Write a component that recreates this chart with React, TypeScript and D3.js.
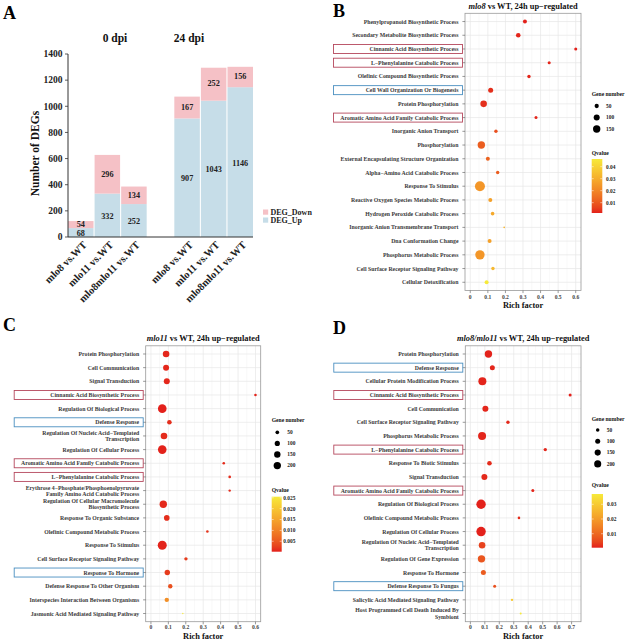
import React from 'react';
import * as d3 from 'd3';

// ---------------- Panel A data ----------------
const comparisons = ['mlo8 vs.WT', 'mlo11 vs.WT', 'mlo8mlo11 vs.WT'];
const timepoints = ['0 dpi', '24 dpi'];
const degUp0 = [68, 332, 252];
const degDown0 = [54, 296, 134];
const degUp24 = [907, 1043, 1146];
const degDown24 = [167, 252, 156];
const yTicksA = [0, 200, 400, 600, 800, 1000, 1200, 1400];
const legendA = ['DEG_Down', 'DEG_Up'];

// ---------------- Panel B data ----------------
const termsB = [
  'Phenylpropanoid Biosynthetic Process',
  'Secondary Metabolite Biosynthetic Process',
  'Cinnamic Acid Biosynthetic Process',
  'L\u2212Phenylalanine Catabolic Process',
  'Olefinic Compound Biosynthetic Process',
  'Cell Wall Organization Or Biogenesis',
  'Protein Phosphorylation',
  'Aromatic Amino Acid Family Catabolic Process',
  'Inorganic Anion Transport',
  'Phosphorylation',
  'External Encapsulating Structure Organization',
  'Alpha\u2212Amino Acid Catabolic Process',
  'Response To Stimulus',
  'Reactive Oxygen Species Metabolic Process',
  'Hydrogen Peroxide Catabolic Process',
  'Inorganic Anion Transmembrane Transport',
  'Dna Conformation Change',
  'Phosphorus Metabolic Process',
  'Cell Surface Receptor Signaling Pathway',
  'Cellular Detoxification',
];
const richB = [0.311, 0.273, 0.6, 0.449, 0.334, 0.116, 0.076, 0.374, 0.146, 0.063, 0.1, 0.156, 0.055, 0.114, 0.127, 0.193, 0.11, 0.055, 0.129, 0.093];
const genesB = [44, 58, 25, 25, 32, 69, 120, 25, 32, 151, 44, 32, 275, 44, 36, 7, 44, 243, 32, 44];
const qB = [0.0015, 0.002, 0.0014, 0.002, 0.002, 0.003, 0.003, 0.002, 0.008, 0.011, 0.012, 0.011, 0.024, 0.027, 0.029, 0.032, 0.027, 0.024, 0.033, 0.0464];
const redBoxB = ['Cinnamic Acid Biosynthetic Process', 'L\u2212Phenylalanine Catabolic Process', 'Aromatic Amino Acid Family Catabolic Process'];
const blueBoxB = ['Cell Wall Organization Or Biogenesis'];
const geneBreaksB = [50, 100, 150];
const qTicksB = [0.01, 0.02, 0.03, 0.04];
const xTicksB = [0, 0.1, 0.2, 0.3, 0.4, 0.5, 0.6];

// ---------------- Panel C data ----------------
const termsC = [
  'Protein Phosphorylation',
  'Cell Communication',
  'Signal Transduction',
  'Cinnamic Acid Biosynthetic Process',
  'Regulation Of Biological Process',
  'Defense Response',
  'Regulation Of Nucleic Acid\u2212Templated\nTranscription',
  'Regulation Of Cellular Process',
  'Aromatic Amino Acid Family Catabolic Process',
  'L\u2212Phenylalanine Catabolic Process',
  'Erythrose 4\u2212Phosphate/Phosphoenolpyruvate\nFamily Amino Acid Catabolic Process',
  'Regulation Of Cellular Macromolecule\nBiosynthetic Process',
  'Response To Organic Substance',
  'Olefinic Compound Metabolic Process',
  'Response To Stimulus',
  'Cell Surface Receptor Signaling Pathway',
  'Response To Hormone',
  'Defense Response To Other Organism',
  'Interspecies Interaction Between Organisms',
  'Jasmonic Acid Mediated Signaling Pathway',
];
const richC = [0.087, 0.087, 0.091, 0.6, 0.065, 0.106, 0.075, 0.065, 0.418, 0.452, 0.452, 0.071, 0.091, 0.324, 0.065, 0.201, 0.094, 0.111, 0.091, 0.183];
const genesC = [161, 133, 133, 25, 274, 78, 161, 274, 25, 25, 21, 203, 116, 25, 300, 43, 108, 72, 72, 7];
const qC = [0.0005, 0.0006, 0.0006, 0.0004, 0.0002, 0.001, 0.0008, 0.0003, 0.0008, 0.0008, 0.0009, 0.0007, 0.001, 0.0015, 0.0004, 0.002, 0.002, 0.004, 0.012, 0.0255];
const redBoxC = ['Cinnamic Acid Biosynthetic Process', 'Aromatic Amino Acid Family Catabolic Process', 'L\u2212Phenylalanine Catabolic Process'];
const blueBoxC = ['Defense Response', 'Response To Hormone'];
const geneBreaksC = [50, 100, 150, 200];
const qTicksC = [0.005, 0.01, 0.015, 0.02, 0.025];
const xTicksC = [0, 0.1, 0.2, 0.3, 0.4, 0.5, 0.6];

// ---------------- Panel D data ----------------
const termsD = [
  'Protein Phosphorylation',
  'Defense Response',
  'Cellular Protein Modification Process',
  'Cinnamic Acid Biosynthetic Process',
  'Cell Communication',
  'Cell Surface Receptor Signaling Pathway',
  'Phosphorus Metabolic Process',
  'L\u2212Phenylalanine Catabolic Process',
  'Response To Biotic Stimulus',
  'Signal Transduction',
  'Aromatic Amino Acid Family Catabolic Process',
  'Regulation Of Biological Process',
  'Olefinic Compound Metabolic Process',
  'Regulation Of Cellular Process',
  'Regulation Of Nucleic Acid\u2212Templated\nTranscription',
  'Regulation Of Gene Expression',
  'Response To Hormone',
  'Defense Response To Fungus',
  'Salicylic Acid Mediated Signaling Pathway',
  'Host Programmed Cell Death Induced By\nSymbiont',
];
const richD = [0.125, 0.152, 0.083, 0.69, 0.104, 0.26, 0.081, 0.518, 0.132, 0.097, 0.432, 0.074, 0.336, 0.074, 0.081, 0.077, 0.09, 0.168, 0.288, 0.348];
const genesD = [219, 100, 256, 36, 144, 46, 256, 46, 85, 144, 36, 353, 27, 353, 174, 219, 100, 36, 23, 16];
const qD = [0.0007, 0.001, 0.0008, 0.0005, 0.001, 0.0012, 0.0009, 0.0009, 0.0015, 0.0012, 0.001, 0.0006, 0.0015, 0.0006, 0.004, 0.007, 0.008, 0.006, 0.03, 0.037];
const redBoxD = ['Cinnamic Acid Biosynthetic Process', 'L\u2212Phenylalanine Catabolic Process', 'Aromatic Amino Acid Family Catabolic Process'];
const blueBoxD = ['Defense Response', 'Defense Response To Fungus'];
const geneBreaksD = [50, 100, 150, 200];
const qTicksD = [0.01, 0.02, 0.03];
const xTicksD = [0, 0.1, 0.2, 0.3, 0.4, 0.5, 0.6, 0.7];

const titleRest = ' vs WT, 24h up\u2212regulated';

// ---------------- styles ----------------
const SERIF = "'Liberation Serif', 'Times New Roman', serif";
const PINK = '#f5c1c6';
const BLUE = '#c6dde8';
const LOW = '#e3201b';
const HIGH = '#f6ea3a';
const BOX_RED = '#b5485d';
const BOX_BLUE = '#4a8fc0';

function fmtTick(v: number) {
  return v === 0 ? '0' : d3.format('.1f')(v);
}

type DotProps = {
  id: string;
  terms: string[];
  rich: number[];
  genes: number[];
  q: number[];
  redBox: string[];
  blueBox: string[];
  geneBreaks: number[];
  qTicks: number[];
  qFmt: (v: number) => string;
  xTicks: number[];
  xDomain: [number, number];
  left: number;
  right: number;
  top: number;
  bottom: number;
  k: number;
  titleItalic: string;
  titleY: number;
  tickLabelY: number;
  axisTitleY: number;
  legX: number;
  legTitleY: number;
  legCircleY0: number;
  legCircleStep: number;
  legCircleX: number;
  legLabelX: number;
  qTitleY: number;
  cbTop: number;
  cbBottom: number;
  cbWidth: number;
  cbLabelX: number;
};

function DotPanel(p: DotProps) {
  const x = d3.scaleLinear().domain(p.xDomain).range([p.left, p.right]);
  const y = d3.scalePoint<string>().domain(p.terms).range([p.top, p.bottom]).padding(0.6);
  const r = d3.scaleSqrt().domain([0, 100]).range([0, p.k * 10]);
  const qExt = d3.extent(p.q) as [number, number];
  const color = d3.scaleLinear<string>().domain(qExt).range([LOW, HIGH]).interpolate(d3.interpolateLab);
  const cb = d3.scaleLinear().domain(qExt).range([p.cbBottom, p.cbTop]);
  const minors = p.xTicks.map((t) => t + 0.05).filter((v) => v < p.xDomain[1]);
  const cx = (p.left + p.right) / 2;
  const labelEnd = p.left - 6.5;
  const stops = d3.range(0, 1.0001, 0.1);
  const gid = `grad-${p.id}`;
  return (
    <g>
      <defs>
        <linearGradient id={gid} x1="0" y1="1" x2="0" y2="0">
          {stops.map((s) => (
            <stop key={s} offset={s} stopColor={color(qExt[0] + s * (qExt[1] - qExt[0]))} />
          ))}
        </linearGradient>
      </defs>
      <text x={cx} y={p.titleY} textAnchor="middle" fontSize={8.4} fontWeight="bold" fill="#111">
        <tspan fontStyle="italic">{p.titleItalic}</tspan>
        <tspan>{titleRest}</tspan>
      </text>
      <rect x={p.left} y={p.top} width={p.right - p.left} height={p.bottom - p.top} fill="#fff" />
      {minors.map((v) => (
        <line key={'mn' + v} x1={x(v)} x2={x(v)} y1={p.top} y2={p.bottom} stroke="#f2f2f2" strokeWidth={0.5} />
      ))}
      {p.xTicks.map((v) => (
        <line key={'mj' + v} x1={x(v)} x2={x(v)} y1={p.top} y2={p.bottom} stroke="#e6e6e6" strokeWidth={0.7} />
      ))}
      {p.terms.map((t) => (
        <line key={'h' + t} x1={p.left} x2={p.right} y1={y(t)} y2={y(t)} stroke="#e6e6e6" strokeWidth={0.7} />
      ))}
      {p.terms.map((t, i) => (
        <circle key={'d' + t} cx={x(p.rich[i])} cy={y(t)} r={r(p.genes[i])} fill={color(p.q[i])} />
      ))}
      <rect x={p.left} y={p.top} width={p.right - p.left} height={p.bottom - p.top} fill="none" stroke="#9a9a9a" strokeWidth={0.8} />
      {p.terms.map((t) => {
        const lines = t.split('\n');
        const yy = y(t) as number;
        return (
          <g key={'yl' + t}>
            <line x1={p.left - 2.6} x2={p.left} y1={yy} y2={yy} stroke="#555" strokeWidth={0.6} />
            {lines.map((ln, j) => (
              <text
                key={j}
                x={labelEnd}
                y={yy + (j - (lines.length - 1) / 2) * 6.2}
                dy="0.35em"
                textAnchor="end"
                fontSize={5.8}
                fontWeight="bold"
                fill="#3a3a3a"
              >
                {ln}
              </text>
            ))}
            {p.redBox.includes(t) && (
              <rect x={p.left - 131.5} y={yy - 4.5} width={129} height={9} fill="none" stroke={BOX_RED} strokeWidth={0.9} />
            )}
            {p.blueBox.includes(t) && (
              <rect x={p.left - 131.5} y={yy - 4.5} width={129} height={9} fill="none" stroke={BOX_BLUE} strokeWidth={0.9} />
            )}
          </g>
        );
      })}
      {p.xTicks.map((v) => (
        <g key={'xt' + v}>
          <line x1={x(v)} x2={x(v)} y1={p.bottom} y2={p.bottom + 2.6} stroke="#555" strokeWidth={0.6} />
          <text x={x(v)} y={p.tickLabelY} textAnchor="middle" fontSize={5.6} fontWeight="bold" fill="#444">
            {fmtTick(v)}
          </text>
        </g>
      ))}
      <text x={cx} y={p.axisTitleY} textAnchor="middle" fontSize={8.4} fontWeight="bold" fill="#111">
        Rich factor
      </text>
      <text x={p.legX} y={p.legTitleY} fontSize={5.6} fontWeight="bold" fill="#111">
        Gene number
      </text>
      {p.geneBreaks.map((g, i) => (
        <g key={'gl' + g}>
          <circle cx={p.legCircleX} cy={p.legCircleY0 + i * p.legCircleStep} r={r(g)} fill="#000" />
          <text x={p.legLabelX} y={p.legCircleY0 + i * p.legCircleStep} dy="0.35em" fontSize={5.4} fontWeight="bold" fill="#222">
            {g}
          </text>
        </g>
      ))}
      <text x={p.legX} y={p.qTitleY} fontSize={5.6} fontWeight="bold" fill="#111">
        Qvalue
      </text>
      <rect x={p.legX} y={p.cbTop} width={p.cbWidth} height={p.cbBottom - p.cbTop} fill={`url(#${gid})`} />
      {p.qTicks.map((v) => (
        <g key={'qt' + v}>
          <line x1={p.legX} x2={p.legX + 2} y1={cb(v)} y2={cb(v)} stroke="#fff" strokeWidth={0.5} />
          <line x1={p.legX + p.cbWidth - 2} x2={p.legX + p.cbWidth} y1={cb(v)} y2={cb(v)} stroke="#fff" strokeWidth={0.5} />
          <text x={p.cbLabelX} y={cb(v)} dy="0.35em" fontSize={5.4} fontWeight="bold" fill="#222">
            {p.qFmt(v)}
          </text>
        </g>
      ))}
    </g>
  );
}

function PanelA() {
  const slots = [...comparisons.map((c) => '0|' + c), 'gap', ...comparisons.map((c) => '24|' + c)];
  const xb = d3.scaleBand<string>().domain(slots).range([68, 253]).paddingInner(0.04);
  const yA = d3.scaleLinear().domain([0, 1400]).range([237, 54]);
  const bars = [
    ...comparisons.map((c, i) => ({ key: '0|' + c, label: c, up: degUp0[i], down: degDown0[i] })),
    ...comparisons.map((c, i) => ({ key: '24|' + c, label: c, up: degUp24[i], down: degDown24[i] })),
  ];
  const groupCenters = [115, 189];
  return (
    <g>
      <text x={3} y={19} fontSize={18} fontWeight="bold" fill="#000">A</text>
      {timepoints.map((t, i) => (
        <text key={t} x={groupCenters[i]} y={41.5} textAnchor="middle" fontSize={11.5} fontWeight="bold" fill="#111">
          {t}
        </text>
      ))}
      {bars.map((b) => {
        const x0 = xb(b.key) as number;
        const w = xb.bandwidth();
        const yUp = yA(b.up);
        const yTot = yA(b.up + b.down);
        return (
          <g key={b.key}>
            <rect x={x0} y={yUp} width={w} height={yA(0) - yUp} fill={BLUE} />
            <rect x={x0} y={yTot} width={w} height={yUp - yTot} fill={PINK} />
            <text x={x0 + w / 2} y={(yA(0) + yUp) / 2 + 0.6} dy="0.35em" textAnchor="middle" fontSize={8.2} fontWeight="bold" fill="#222">
              {b.up}
            </text>
            <text x={x0 + w / 2} y={(yUp + yTot) / 2 - 0.6} dy="0.35em" textAnchor="middle" fontSize={8.2} fontWeight="bold" fill="#222">
              {b.down}
            </text>
            <text
              transform={`translate(${x0 + w / 2 + 4},${243}) rotate(-45)`}
              textAnchor="end"
              dy="0.35em"
              fontSize={10.5}
              fontWeight="bold"
              fill="#222"
            >
              {b.label}
            </text>
          </g>
        );
      })}
      <line x1={68} x2={68} y1={yA(1400)} y2={yA(0)} stroke="#333" strokeWidth={1} />
      <line x1={68} x2={253} y1={yA(0)} y2={yA(0)} stroke="#333" strokeWidth={1} />
      {yTicksA.map((v) => (
        <g key={v}>
          <line x1={65} x2={68} y1={yA(v)} y2={yA(v)} stroke="#333" strokeWidth={0.8} />
          <text x={62.5} y={yA(v)} dy="0.35em" textAnchor="end" fontSize={9.5} fontWeight="bold" fill="#222">
            {v}
          </text>
        </g>
      ))}
      <text transform="translate(35,153.5) rotate(-90)" textAnchor="middle" dy="0.35em" fontSize={11.5} fontWeight="bold" fill="#111">
        Number of DEGs
      </text>
      {legendA.map((l, i) => (
        <g key={l}>
          <rect x={263} y={209.5 + i * 8} width={5.2} height={5.2} fill={i === 0 ? PINK : BLUE} />
          <text x={270.5} y={212.2 + i * 8} dy="0.35em" fontSize={8} fontWeight="bold" fill="#222">
            {l}
          </text>
        </g>
      ))}
    </g>
  );
}

export default function App() {
  return (
    <svg
      width={634}
      height={640}
      viewBox="0 0 634 640"
      style={{ position: 'absolute', left: 0, top: 0, background: '#fff' }}
      fontFamily={SERIF}
    >
      <rect x={0} y={0} width={634} height={640} fill="#fff" />
      <PanelA />
      <text x={333} y={17} fontSize={18} fontWeight="bold" fill="#000">B</text>
      <text x={3} y={331} fontSize={18} fontWeight="bold" fill="#000">C</text>
      <text x={333} y={334} fontSize={18} fontWeight="bold" fill="#000">D</text>
      <DotPanel
        id="B"
        terms={termsB}
        rich={richB}
        genes={genesB}
        q={qB}
        redBox={redBoxB}
        blueBox={blueBoxB}
        geneBreaks={geneBreaksB}
        qTicks={qTicksB}
        qFmt={d3.format('.2f')}
        xTicks={xTicksB}
        xDomain={[-0.03, 0.63]}
        left={465}
        right={581}
        top={13.3}
        bottom={290.5}
        k={0.301}
        titleItalic="mlo8"
        titleY={9}
        tickLabelY={298.5}
        axisTitleY={307.5}
        legX={591.7}
        legTitleY={96}
        legCircleY0={106}
        legCircleStep={11.5}
        legCircleX={596.7}
        legLabelX={606}
        qTitleY={154.5}
        cbTop={159}
        cbBottom={213}
        cbWidth={10.6}
        cbLabelX={606}
      />
      <DotPanel
        id="C"
        terms={termsC}
        rich={richC}
        genes={genesC}
        q={qC}
        redBox={redBoxC}
        blueBox={blueBoxC}
        geneBreaks={geneBreaksC}
        qTicks={qTicksC}
        qFmt={d3.format('.3f')}
        xTicks={xTicksC}
        xDomain={[-0.03, 0.63]}
        left={145.7}
        right={260.7}
        top={345.8}
        bottom={621.7}
        k={0.26}
        titleItalic="mlo11"
        titleY={340.5}
        tickLabelY={629}
        axisTitleY={638.5}
        legX={271.7}
        legTitleY={422}
        legCircleY0={432.3}
        legCircleStep={11.1}
        legCircleX={277.3}
        legLabelX={287.3}
        qTitleY={492}
        cbTop={496.7}
        cbBottom={551.7}
        cbWidth={10}
        cbLabelX={283.3}
      />
      <DotPanel
        id="D"
        terms={termsD}
        rich={richD}
        genes={genesD}
        q={qD}
        redBox={redBoxD}
        blueBox={blueBoxD}
        geneBreaks={geneBreaksD}
        qTicks={qTicksD}
        qFmt={d3.format('.2f')}
        xTicks={xTicksD}
        xDomain={[-0.035, 0.765]}
        left={465.3}
        right={581}
        top={345.8}
        bottom={621.7}
        k={0.25}
        titleItalic="mlo8/mlo11"
        titleY={340.5}
        tickLabelY={629}
        axisTitleY={638.5}
        legX={591.7}
        legTitleY={420.5}
        legCircleY0={430}
        legCircleStep={11.3}
        legCircleX={597.7}
        legLabelX={606.7}
        qTitleY={487}
        cbTop={494}
        cbBottom={547.7}
        cbWidth={11.3}
        cbLabelX={607}
      />
    </svg>
  );
}
